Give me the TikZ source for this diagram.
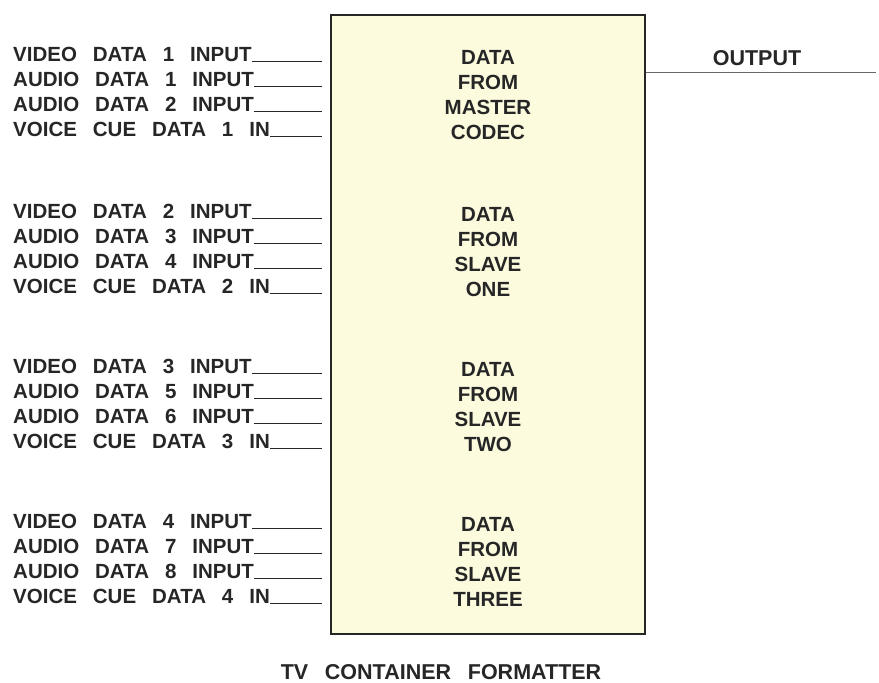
\documentclass[tikz,border=0pt]{standalone}
\usepackage{fontspec}
\setmainfont{Liberation Sans}[WordSpace=2.8]
\usetikzlibrary{positioning}
\definecolor{boxfill}{RGB}{252,251,222}
\definecolor{ink}{RGB}{38,38,38}

\begin{document}
\begin{tikzpicture}[
  x=1pt, y=-1pt,
  lbl/.style={anchor=base west, inner sep=0pt, text=ink, font=\bfseries\fontsize{20.5}{25}\selectfont},
  word/.style={anchor=base, inner sep=0pt, text=ink, font=\bfseries\fontsize{20.5}{25}\selectfont},
  caption/.style={anchor=base, inner sep=0pt, text=ink, font=\bfseries\fontsize{21.5}{25}\selectfont},
  wire/.style={draw=ink, line width=1.3pt},
  fmtbox/.style={draw=ink, line width=1.8pt, fill=boxfill, minimum width=314pt, minimum height=619pt, inner sep=0pt}
]
\useasboundingbox (0,0) rectangle (879,683);

\node[fmtbox] (fmt) at (488,324.5) {};
\coordinate (inEdge) at (322,0);
\coordinate (outEnd) at (876,72);

% master codec
\node[lbl] (vid1) at (13,61.5)  {VIDEO DATA 1 INPUT};
\node[lbl] (aud1) at (13,86.5)  {AUDIO DATA 1 INPUT};
\node[lbl] (aud2) at (13,111.5) {AUDIO DATA 2 INPUT};
\node[lbl] (cue1) at (13,136.5) {VOICE CUE DATA 1 IN};
\node[word] (m1) at (488,64.5)  {DATA};
\node[word] (m2) at (488,89.5)  {FROM};
\node[word] (m3) at (488,114.5) {MASTER};
\node[word] (m4) at (488,139.5) {CODEC};

% slave one
\node[lbl] (vid2) at (13,218.5) {VIDEO DATA 2 INPUT};
\node[lbl] (aud3) at (13,243.5) {AUDIO DATA 3 INPUT};
\node[lbl] (aud4) at (13,268.5) {AUDIO DATA 4 INPUT};
\node[lbl] (cue2) at (13,293.5) {VOICE CUE DATA 2 IN};
\node[word] (s11) at (488,221.5) {DATA};
\node[word] (s12) at (488,246.5) {FROM};
\node[word] (s13) at (488,271.5) {SLAVE};
\node[word] (s14) at (488,296.5) {ONE};

% slave two
\node[lbl] (vid3) at (13,373.5) {VIDEO DATA 3 INPUT};
\node[lbl] (aud5) at (13,398.5) {AUDIO DATA 5 INPUT};
\node[lbl] (aud6) at (13,423.5) {AUDIO DATA 6 INPUT};
\node[lbl] (cue3) at (13,448.5) {VOICE CUE DATA 3 IN};
\node[word] (s21) at (488,376.5) {DATA};
\node[word] (s22) at (488,401.5) {FROM};
\node[word] (s23) at (488,426.5) {SLAVE};
\node[word] (s24) at (488,451.5) {TWO};

% slave three
\node[lbl] (vid4) at (13,528.5) {VIDEO DATA 4 INPUT};
\node[lbl] (aud7) at (13,553.5) {AUDIO DATA 7 INPUT};
\node[lbl] (aud8) at (13,578.5) {AUDIO DATA 8 INPUT};
\node[lbl] (cue4) at (13,603.5) {VOICE CUE DATA 4 IN};
\node[word] (s31) at (488,531.5) {DATA};
\node[word] (s32) at (488,556.5) {FROM};
\node[word] (s33) at (488,581.5) {SLAVE};
\node[word] (s34) at (488,606.5) {THREE};

\node[caption] (outlbl) at (757,65.5)  {OUTPUT};
\node[caption] (title)  at (441,679.5) {TV CONTAINER FORMATTER};

\draw[wire] (vid1.base east) -- (vid1.base east -| inEdge);
\draw[wire] (aud1.base east) -- (aud1.base east -| inEdge);
\draw[wire] (aud2.base east) -- (aud2.base east -| inEdge);
\draw[wire] (cue1.base east) -- (cue1.base east -| inEdge);
\draw[wire] (vid2.base east) -- (vid2.base east -| inEdge);
\draw[wire] (aud3.base east) -- (aud3.base east -| inEdge);
\draw[wire] (aud4.base east) -- (aud4.base east -| inEdge);
\draw[wire] (cue2.base east) -- (cue2.base east -| inEdge);
\draw[wire] (vid3.base east) -- (vid3.base east -| inEdge);
\draw[wire] (aud5.base east) -- (aud5.base east -| inEdge);
\draw[wire] (aud6.base east) -- (aud6.base east -| inEdge);
\draw[wire] (cue3.base east) -- (cue3.base east -| inEdge);
\draw[wire] (vid4.base east) -- (vid4.base east -| inEdge);
\draw[wire] (aud7.base east) -- (aud7.base east -| inEdge);
\draw[wire] (aud8.base east) -- (aud8.base east -| inEdge);
\draw[wire] (cue4.base east) -- (cue4.base east -| inEdge);
\draw[wire, draw=ink!70, line width=1pt] (fmt.east |- outEnd) -- (outEnd);
\end{tikzpicture}
\end{document}
